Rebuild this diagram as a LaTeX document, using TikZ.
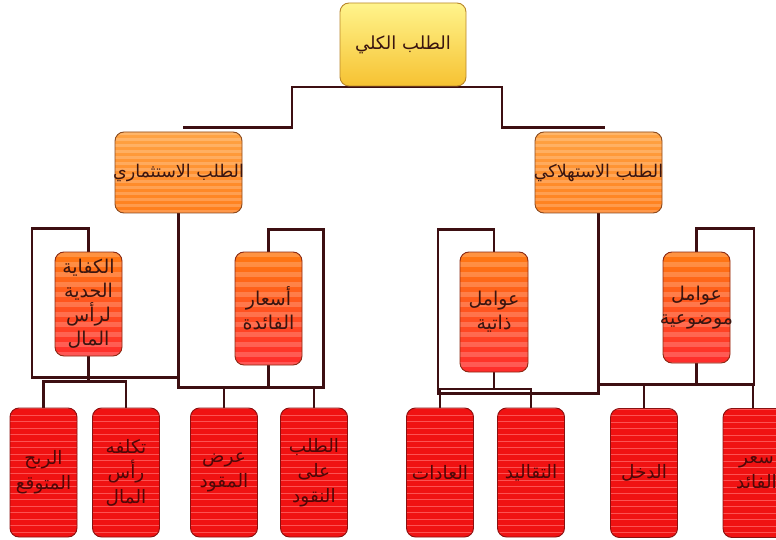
\documentclass[tikz,border=0pt]{standalone}
\usepackage{fontspec}
\newfontfamily\arabicfont[Script=Arabic]{DejaVu Sans}
\TeXXeTstate=1
\usetikzlibrary{backgrounds}
% one right-to-left line, centred on the box and free to run past its edges
\newcommand\artxt[1]{\makebox[0pt][c]{\beginR #1\endR}}

\definecolor{wire}{HTML}{3D0F12}
\definecolor{inktext}{HTML}{3A1510}
\definecolor{redtext}{HTML}{4E0808}
\definecolor{yelTop}{HTML}{FFF48C}
\definecolor{yelBot}{HTML}{F6C232}
\definecolor{yelEdge}{HTML}{B8862B}
\definecolor{orTop}{HTML}{FFA444}
\definecolor{orBot}{HTML}{FF7E1C}
\definecolor{orEdge}{HTML}{8B4A1E}
\definecolor{rdTop}{HTML}{FF7A12}
\definecolor{rdBot}{HTML}{FF2C2C}
\definecolor{rdEdge}{HTML}{8B2A14}
\definecolor{leafFill}{HTML}{F01212}
\definecolor{leafLine}{HTML}{FF6262}
\definecolor{leafEdge}{HTML}{8B1010}

\begin{document}
\begin{tikzpicture}[x=1pt,y=1pt,
  conn/.style={draw=wire,line width=2.2pt},
  stripes/.style n args={3}{path picture={
      \foreach \k in {0,...,30}{
        \fill[#1,sharp corners] (path picture bounding box.north west)
          ++(0,{-#2*\k}) rectangle ++(200,{-#3});}}},
  box/.style={rounded corners=9pt,inner sep=0pt,align=center,
    font=\arabicfont\fontsize{19}{24}\selectfont,text=inktext},
  topbox/.style={box,draw=yelEdge,line width=0.9pt,
    top color=yelTop,bottom color=yelBot,
    minimum width=126pt,minimum height=83pt,
    font=\arabicfont\fontsize{18}{22}\selectfont},
  midbox/.style={box,draw=orEdge,line width=0.9pt,
    top color=orTop,bottom color=orBot,
    stripes={white,opacity=0.2}{6}{3},
    minimum width=127pt,minimum height=81pt,
    font=\arabicfont\fontsize{17.5}{22}\selectfont},
  subbox/.style={box,draw=rdEdge,line width=0.9pt,
    top color=rdTop,bottom color=rdBot,
    stripes={white,opacity=0.2}{10}{5},
    minimum width=67pt},
  leafbox/.style={box,draw=leafEdge,line width=0.9pt,fill=leafFill,
    stripes={leafLine,opacity=0.8}{6.5}{0.8},
    minimum width=67pt,minimum height=129pt,text=redtext,
    font=\arabicfont\fontsize{18.5}{25}\selectfont}
]
\useasboundingbox (0,0) rectangle (776,-540);
\clip (0,0) rectangle (776,-540);

% root
\node[topbox] (total) at (403,-44.5) {\artxt{الطلب الكلي}};

% two kinds of demand
\node[midbox] (inv)  at (178.5,-172.5) {\artxt{الطلب الاستثماري}};
\node[midbox] (cons) at (598.5,-172.5) {\artxt{الطلب الاستهلاكي}};

% their determinants
\node[subbox,minimum height=104pt] (mec) at (88.5,-304)
  {\artxt{الكفاية}\\\artxt{الحدية}\\\artxt{لرأس}\\\artxt{المال}};
\node[subbox,minimum height=113pt] (rate) at (268.5,-308.5)
  {\artxt{أسعار}\\\artxt{الفائدة}};
\node[subbox,minimum width=68pt,minimum height=120pt] (subj) at (494,-312)
  {\artxt{عوامل}\\\artxt{ذاتية}};
\node[subbox,minimum height=111pt] (obj) at (696.5,-307.5)
  {\artxt{عوامل}\\\artxt{موضوعية}};

% leaves
\node[leafbox] (b1) at (43.5,-472.5) {\artxt{الربح}\\\artxt{المتوقع}};
\node[leafbox] (b2) at (126,-472.5) {\artxt{تكلفه}\\\artxt{رأس}\\\artxt{المال}};
\node[leafbox] (b3) at (224,-472.5) {\artxt{عرض}\\\artxt{المقود}};
\node[leafbox] (b4) at (314,-472.5) {\artxt{الطلب}\\\artxt{على}\\\artxt{النقود}};
\node[leafbox] (b5) at (440,-472.5) {\artxt{العادات}};
\node[leafbox] (b6) at (531,-472.5) {\artxt{التقاليد}};
\node[leafbox] (b7) at (644,-473) {\artxt{الدخل}};
\node[leafbox] (b8) at (756.5,-473) {\artxt{سعر}\\\artxt{الفائد}};

\begin{pgfonlayer}{background}
% root to the two demands
\draw[conn] ([xshift=4.5pt,yshift=4pt]inv.north)
  -| ([xshift=-111pt,yshift=-0.5pt]total.south)
  -| ([xshift=-96.5pt,yshift=4pt]cons.north)
  -- ([xshift=6.5pt,yshift=4pt]cons.north);

% investment side
\draw[conn] (inv.south) -- ++(0,-174) -| ++(145,158) -| (rate.north);
\draw[conn] (rate.south) -- ++(0,-22);
\draw[conn] (b3.north) -- ++(0,21);
\draw[conn] (b4.north) -- ++(0,21);
\draw[conn] (mec.north) -- ++(0,23) -| ++(-56.5,-149) -- ++(146,0);
\draw[conn] (mec.south) -- ++(0,-26);
\draw[conn] (b1.north) -- ++(0,26) -| (b2.north);

% consumption side
\draw[conn] (cons.south) -- ++(0,-180) -| ++(-160.5,164) -| (subj.north);
\draw[conn] (subj.south) -- ++(0,-17.5);
\draw[conn] (b5.north) -- ++(0,18.5) -| (b6.north);
\draw[conn] (obj.north) -- ++(0,23) -| ++(57.5,-156) -- ++(-155.5,0);
\draw[conn] (obj.south) -- ++(0,-22);
\draw[conn] (b7.north) -- ++(0,23);
\draw[conn] ([xshift=-3.5pt]b8.north) -- ++(0,23);
\end{pgfonlayer}
\end{tikzpicture}
\end{document}
